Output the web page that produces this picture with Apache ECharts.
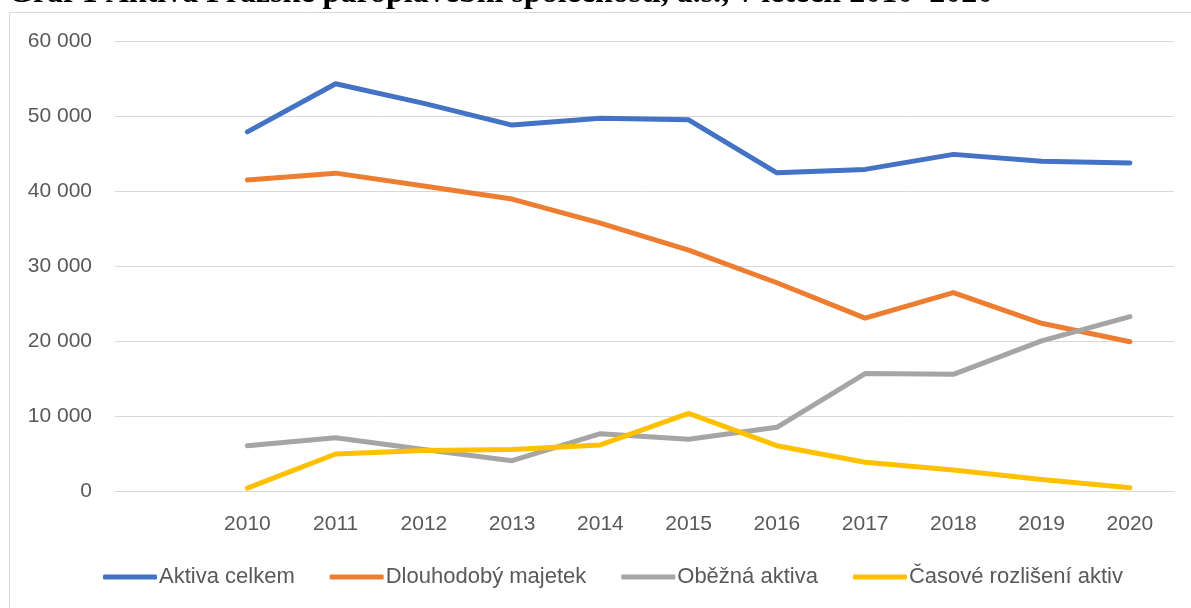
<!DOCTYPE html>
<html>
<head>
<meta charset="utf-8">
<title>Graf 1</title>
<script src="https://cdn.jsdelivr.net/npm/echarts@6/dist/echarts.min.js"></script>
<style>
  html, body { margin: 0; padding: 0; background: #fff; }
  #chart { width: 1191px; height: 608px; }
</style>
</head>
<body>
<div id="chart"></div>
<script>
var roky = ['', '2010', '2011', '2012', '2013', '2014', '2015', '2016', '2017', '2018', '2019', '2020'];
var aktivaCelkem = [null, 47900, 54300, 51700, 48800, 49700, 49500, 42450, 42900, 44900, 44000, 43750];
var dlouhodobyMajetek = [null, 41500, 42400, 40700, 38950, 35750, 32150, 27800, 23100, 26500, 22400, 19950];
var obeznaAktiva = [null, 6100, 7150, 5600, 4100, 7700, 6950, 8550, 15700, 15600, 20050, 23300];
var casoveRozliseni = [null, 450, 5000, 5450, 5600, 6200, 10400, 6100, 3900, 2850, 1600, 500];
var nazvy = ['Aktiva celkem', 'Dlouhodobý majetek', 'Oběžná aktiva', 'Časové rozlišení aktiv'];
var barvy = ['#4472C4', '#ED7D31', '#A5A5A5', '#FFC000'];
var nadpis = 'Graf 1 Aktiva Pražské paroplavební společnosti, a.s., v letech 2010–2020';

drawChart();

function mezery(v) {
  // 60000 -> "60 000"
  return String(v).replace(/\B(?=(\d{3})+(?!\d))/g, ' ');
}

function linie(name, data, color) {
  return {
    name: name,
    type: 'line',
    data: data,
    symbol: 'none',
    connectNulls: false,
    lineStyle: { width: 5, color: color, cap: 'round', join: 'round' },
    itemStyle: { color: color },
    emphasis: { disabled: true }
  };
}

function drawChart() {
  var chart = echarts.init(document.getElementById('chart'));
  var textColor = '#595959';
  var font = 'Liberation Sans, Arial, sans-serif';
  var option = {
    animation: false,
    color: barvy,
    graphic: [
      {
        type: 'rect',
        shape: { x: 9.5, y: 12.5, width: 1300, height: 700 },
        style: { fill: 'none', stroke: '#D9D9D9', lineWidth: 1 },
        silent: true
      },
      {
        // nadpis je v predloze oriznuty hornim okrajem
        type: 'text',
        style: {
          x: 8, y: 10,
          text: nadpis,
          fill: '#000',
          font: 'bold 32px "Liberation Serif", "Times New Roman", serif',
          verticalAlign: 'bottom'
        },
        silent: true
      }
    ],
    grid: { left: 115, right: 17, top: 41, bottom: 116.5, containLabel: false },
    legend: {
      data: nazvy,
      left: 98,
      top: 561,
      icon: 'roundRect',
      itemWidth: 54,
      itemHeight: 5,
      itemGap: 35,
      textStyle: { color: textColor, fontSize: 22, fontFamily: font, padding: [0, 0, 0, -3] }
    },
    xAxis: {
      type: 'category',
      data: roky,
      boundaryGap: true,
      axisLine: { show: true, lineStyle: { color: '#D9D9D9', width: 1 } },
      axisTick: { show: false },
      axisLabel: { color: textColor, fontSize: 21, fontFamily: font, margin: 22, interval: 0 }
    },
    yAxis: {
      type: 'value',
      min: 0,
      max: 60000,
      interval: 10000,
      axisLine: { show: false },
      axisTick: { show: false },
      splitLine: { lineStyle: { color: '#D9D9D9', width: 1 } },
      axisLabel: { color: textColor, fontSize: 21, fontFamily: font, margin: 23, formatter: mezery }
    },
    series: [
      linie(nazvy[0], aktivaCelkem, barvy[0]),
      linie(nazvy[1], dlouhodobyMajetek, barvy[1]),
      linie(nazvy[2], obeznaAktiva, barvy[2]),
      linie(nazvy[3], casoveRozliseni, barvy[3])
    ]
  };
  chart.setOption(option);
}
</script>
</body>
</html>
